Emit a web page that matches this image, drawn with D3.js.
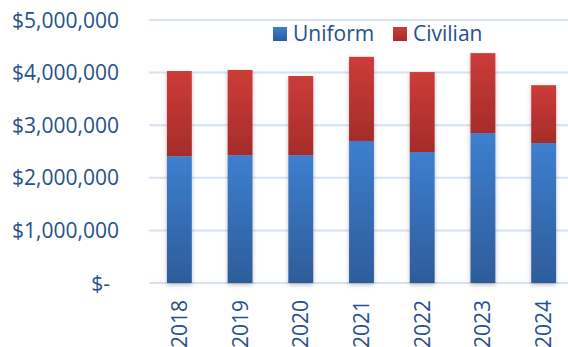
<!DOCTYPE html>
<html><head><meta charset="utf-8">
<script src="https://cdn.jsdelivr.net/npm/d3@7"></script>
<style>body{margin:0;background:#fff;}svg{display:block;}</style>
</head><body><svg id="c" width="568" height="347"></svg>
<script>
const years = ["2018","2019","2020","2021","2022","2023","2024"];
const uniform = [2410000, 2430000, 2430000, 2700000, 2490000, 2850000, 2660000];
const civilian = [1620000, 1620000, 1505000, 1600000, 1520000, 1520000, 1100000];
const seriesNames = ["Uniform","Civilian"];
const yTicks = [0, 1000000, 2000000, 3000000, 4000000, 5000000];

(function(){
const svg = d3.select("#c");
const FONT = "'Open Sans', sans-serif";
const FS = 21;
const TXT = "#25508a";
const W = 568;
const pL = 149, pR = 574, pT = 20, pB = 283;

const x = d3.scaleBand().domain(years).range([pL, pR]).paddingInner(0.59).paddingOuter(0.295);
const y = d3.scaleLinear().domain([0, 5000000]).range([pB, pT]);

const defs = svg.append("defs");
function grad(id, c1, c2){
  const g = defs.append("linearGradient").attr("id", id).attr("x1",0).attr("y1",0).attr("x2",0).attr("y2",1);
  g.append("stop").attr("offset","0%").attr("stop-color",c1);
  g.append("stop").attr("offset","100%").attr("stop-color",c2);
}
grad("gU", "#3d7fcf", "#2e5c9a");
grad("gC", "#cc3c38", "#a52c2a");
const f = defs.append("filter").attr("id","sh").attr("x","-30%").attr("y","-10%").attr("width","160%").attr("height","130%");
f.append("feDropShadow").attr("dx",0).attr("dy",2).attr("stdDeviation",2).attr("flood-color","#000").attr("flood-opacity",0.25);

svg.append("g").selectAll("line").data(yTicks).join("line")
  .attr("x1", pL).attr("x2", W)
  .attr("y1", d => y(d)).attr("y2", d => y(d))
  .attr("stroke", "#d6e1f2").attr("stroke-width", 2);

const fmt = d3.format(",");
svg.append("g").selectAll("text").data(yTicks).join("text")
  .attr("x", d => d === 0 ? 110 : 119)
  .attr("y", d => y(d)).attr("dy", "0.36em")
  .attr("text-anchor", "end")
  .attr("font-family", FONT).attr("font-size", FS).attr("fill", TXT)
  .text(d => d === 0 ? "$-" : "$" + fmt(d));

const rows = years.map((yr, i) => ({year: yr, Uniform: uniform[i], Civilian: civilian[i]}));
const stack = d3.stack().keys(seriesNames)(rows);
const fills = {Uniform: "url(#gU)", Civilian: "url(#gC)"};
const bars = svg.append("g").attr("filter","url(#sh)");
stack.forEach(s => {
  bars.append("g").selectAll("rect").data(s).join("rect")
    .attr("x", d => x(d.data.year))
    .attr("width", x.bandwidth())
    .attr("y", d => y(d[1]))
    .attr("height", d => y(d[0]) - y(d[1]))
    .attr("fill", fills[s.key]);
});

svg.append("g").selectAll("text").data(years).join("text")
  .attr("transform", d => `translate(${x(d) + x.bandwidth()/2},300) rotate(-90)`)
  .attr("text-anchor", "end").attr("dy", "0.36em")
  .attr("font-family", FONT).attr("font-size", FS).attr("fill", TXT)
  .text(d => d);

const leg = svg.append("g");
const legX = [273, 393];
seriesNames.forEach((n, i) => {
  leg.append("rect").attr("x", legX[i]).attr("y", 27).attr("width", 14).attr("height", 14)
    .attr("fill", fills[n]);
  leg.append("text").attr("x", legX[i] + 20).attr("y", 41)
    .attr("font-family", FONT).attr("font-size", FS).attr("fill", TXT).text(n);
});
})();
</script></body></html>
